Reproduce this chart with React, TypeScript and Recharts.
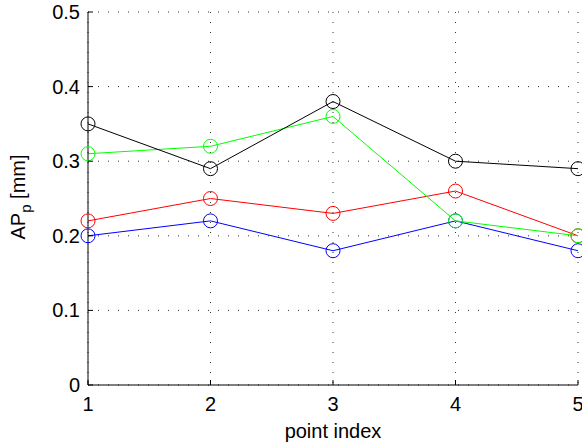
import React from 'react';
import { LineChart, Line, XAxis, YAxis, CartesianGrid } from 'recharts';

const pointIndex = [1, 2, 3, 4, 5];
const blackSeries = [0.35, 0.29, 0.38, 0.30, 0.29];
const greenSeries = [0.31, 0.32, 0.36, 0.22, 0.20];
const redSeries = [0.22, 0.25, 0.23, 0.26, 0.20];
const blueSeries = [0.20, 0.22, 0.18, 0.22, 0.18];
const xTicks = [1, 2, 3, 4, 5];
const yTicks = [0, 0.1, 0.2, 0.3, 0.4, 0.5];

const data = pointIndex.map((x, i) => ({
  x,
  black: blackSeries[i],
  green: greenSeries[i],
  red: redSeries[i],
  blue: blueSeries[i],
}));

const FONT = "'Liberation Sans', Arial, Helvetica, sans-serif";

const XTick = (props: any) => {
  const { x, y, payload } = props;
  return (
    <g>
      <line x1={x} y1={y - 8} x2={x} y2={y - 13} stroke="#000" strokeWidth={1} />
      <text x={x} y={y + 11} textAnchor="middle" dominantBaseline="central" fontSize={20} fontFamily={FONT} fill="#000">
        {payload.value}
      </text>
    </g>
  );
};

const YTick = (props: any) => {
  const { x, y, payload } = props;
  const v = Number(payload.value);
  const label = v === 0 ? '0' : v.toFixed(1);
  return (
    <g>
      <line x1={x + 8} y1={y} x2={x + 13} y2={y} stroke="#000" strokeWidth={1} />
      <text x={x} y={y} textAnchor="end" dominantBaseline="central" fontSize={20} fontFamily={FONT} fill="#000">
        {label}
      </text>
    </g>
  );
};

const dot = (color: string) => ({ r: 7, fill: 'none', stroke: color, strokeWidth: 1 });

export default function App() {
  return (
    <div style={{ position: 'absolute', left: 0, top: 0, width: 582, height: 447, background: '#fff' }}>
      <LineChart width={582} height={447} data={data} margin={{ top: 12, right: 4, left: 0, bottom: 0 }}>
        <CartesianGrid stroke="#333" strokeDasharray="1 9" horizontal vertical />
        <XAxis
          dataKey="x"
          type="number"
          domain={[1, 5]}
          ticks={xTicks}
          height={62}
          axisLine={{ stroke: '#000', strokeWidth: 1 }}
          tickLine={false}
          tick={<XTick />}
          interval={0}
          label={{
            content: () => (
              <text x={333} y={438} textAnchor="middle" fontSize={20} fontFamily={FONT} fill="#000">
                point index
              </text>
            ),
          }}
        />
        <YAxis
          type="number"
          domain={[0, 0.5]}
          ticks={yTicks}
          width={88}
          axisLine={{ stroke: '#000', strokeWidth: 1 }}
          tickLine={false}
          tick={<YTick />}
          interval={0}
          label={{
            content: () => (
              <text
                x={25}
                y={197}
                textAnchor="middle"
                transform="rotate(-90 25 197)"
                fontSize={20}
                fontFamily={FONT}
                fill="#000"
              >
                AP
                <tspan dy={6} fontSize={15}>p</tspan>
                <tspan dy={-6}> [mm]</tspan>
              </text>
            ),
          }}
        />
        <Line dataKey="blue" stroke="#0000ff" strokeWidth={1} dot={dot('#0000ff')} isAnimationActive={false} />
        <Line dataKey="red" stroke="#ff0000" strokeWidth={1} dot={dot('#ff0000')} isAnimationActive={false} />
        <Line dataKey="green" stroke="#00ff00" strokeWidth={1} dot={dot('#00ff00')} isAnimationActive={false} />
        <Line dataKey="black" stroke="#000000" strokeWidth={1} dot={dot('#000000')} isAnimationActive={false} />
      </LineChart>
    </div>
  );
}
